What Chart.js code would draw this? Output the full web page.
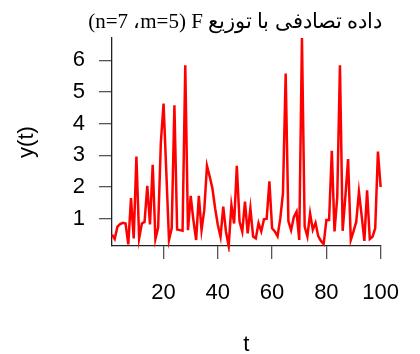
<!DOCTYPE html>
<html>
<head>
<meta charset="utf-8">
<script src="https://cdn.jsdelivr.net/npm/chart.js@4/dist/chart.umd.min.js"></script>
<style>
  html, body { margin: 0; padding: 0; background: #ffffff; }
  #wrap { width: 420px; height: 354px; }
</style>
</head>
<body>
<div id="wrap"><canvas id="chart" width="420" height="354"></canvas></div>
<script>
// Random sample drawn from an F distribution (m=5, n=7), plotted against time index t.
const seriesY = [
  0.50, 0.36, 0.75, 0.83, 0.87, 0.85, 0.19, 1.65, 0.38, 2.96,
  0.38, 0.85, 0.90, 2.04, 0.82, 2.70, 0.36, 0.72, 3.40, 4.63,
  2.50, 0.33, 0.70, 4.58, 0.66, 0.64, 0.62, 5.84, 0.64, 1.72,
  0.96, 0.33, 1.72, 0.64, 1.27, 2.67, 2.33, 1.96, 1.33, 0.80,
  0.43, 1.38, 0.59, 0.14, 1.43, 0.85, 2.67, 0.91, 0.59, 1.54,
  0.54, 1.33, 0.44, 0.38, 0.86, 0.60, 0.98, 1.00, 2.18, 0.70,
  0.60, 0.45, 1.00, 1.80, 5.58, 0.93, 0.64, 1.05, 1.22, 0.33,
  6.70, 0.75, 0.44, 1.17, 0.65, 0.87, 0.45, 0.30, 0.20, 0.96,
  0.96, 3.14, 0.60, 1.67, 5.84, 0.62, 1.70, 2.88, 0.33, 0.60,
  0.90, 1.85, 1.10, 0.30, 1.90, 0.36, 0.43, 0.70, 3.12, 2.00
];
// time index 1..N
const seriesT = seriesY.map((_, i) => i + 1);

const xTickValues = [20, 40, 60, 80, 100];
const yTickValues = [1, 2, 3, 4, 5, 6];

const titleText = '(n=7 \u060Cm=5) F داده تصادفی با توزیع';
const xTitle = 't';
const yTitle = 'y(t)';

const sansFont = '"Liberation Sans", Arial, Helvetica, sans-serif';
const serifFont = '"Liberation Serif", "Times New Roman", "DejaVu Serif", serif';

const points = seriesT.map((t, i) => ({ x: t, y: seriesY[i] }));

// Title and axis captions, painted after the chart
const captions = {
  id: 'captions',
  afterDraw(chart) {
    const ctx = chart.ctx;
    const area = chart.chartArea;
    ctx.save();
    ctx.fillStyle = '#000';
    ctx.direction = 'ltr';

    ctx.font = '21px ' + serifFont;
    ctx.textAlign = 'center';
    ctx.textBaseline = 'alphabetic';
    ctx.fillText(titleText, 235, 28);

    ctx.font = '22px ' + sansFont;
    ctx.fillText(xTitle, (area.left + area.right) / 2, 351);

    ctx.translate(32.5, 142);
    ctx.rotate(-Math.PI / 2);
    ctx.fillText(yTitle, 0, 0);
    ctx.restore();
  }
};

new Chart(document.getElementById('chart'), {
  type: 'line',
  data: {
    datasets: [{
      data: points,
      borderColor: '#ff0000',
      borderWidth: 2.5,
      pointRadius: 0,
      tension: 0,
      fill: false,
      clip: 6
    }]
  },
  options: {
    responsive: false,
    animation: false,
    devicePixelRatio: 1,
    layout: { padding: { left: 0, right: 20, top: 38, bottom: 0 } },
    plugins: {
      legend: { display: false },
      title: { display: false },
      tooltip: { enabled: false }
    },
    scales: {
      x: {
        type: 'linear',
        min: seriesT[0],
        max: seriesT[seriesT.length - 1],
        afterFit(scale) { scale.height = 108; },
        afterBuildTicks(scale) { scale.ticks = xTickValues.map(v => ({ value: v })); },
        grid: { drawOnChartArea: false, drawTicks: true, tickLength: 13, color: '#555', lineWidth: 1.3 },
        border: { display: true, color: '#222', width: 1.3 },
        ticks: {
          color: '#000',
          font: { family: sansFont, size: 22 },
          padding: 21,
          maxRotation: 0,
          autoSkip: false
        }
      },
      y: {
        type: 'linear',
        min: Math.min(...seriesY),
        max: Math.max(...seriesY),
        afterFit(scale) { scale.width = 112; },
        afterBuildTicks(scale) { scale.ticks = yTickValues.map(v => ({ value: v })); },
        grid: { drawOnChartArea: false, drawTicks: true, tickLength: 13, color: '#555', lineWidth: 1.3 },
        border: { display: true, color: '#222', width: 1.3 },
        ticks: {
          color: '#000',
          font: { family: sansFont, size: 22 },
          padding: 14,
          autoSkip: false
        }
      }
    }
  },
  plugins: [captions]
});
</script>
</body>
</html>
